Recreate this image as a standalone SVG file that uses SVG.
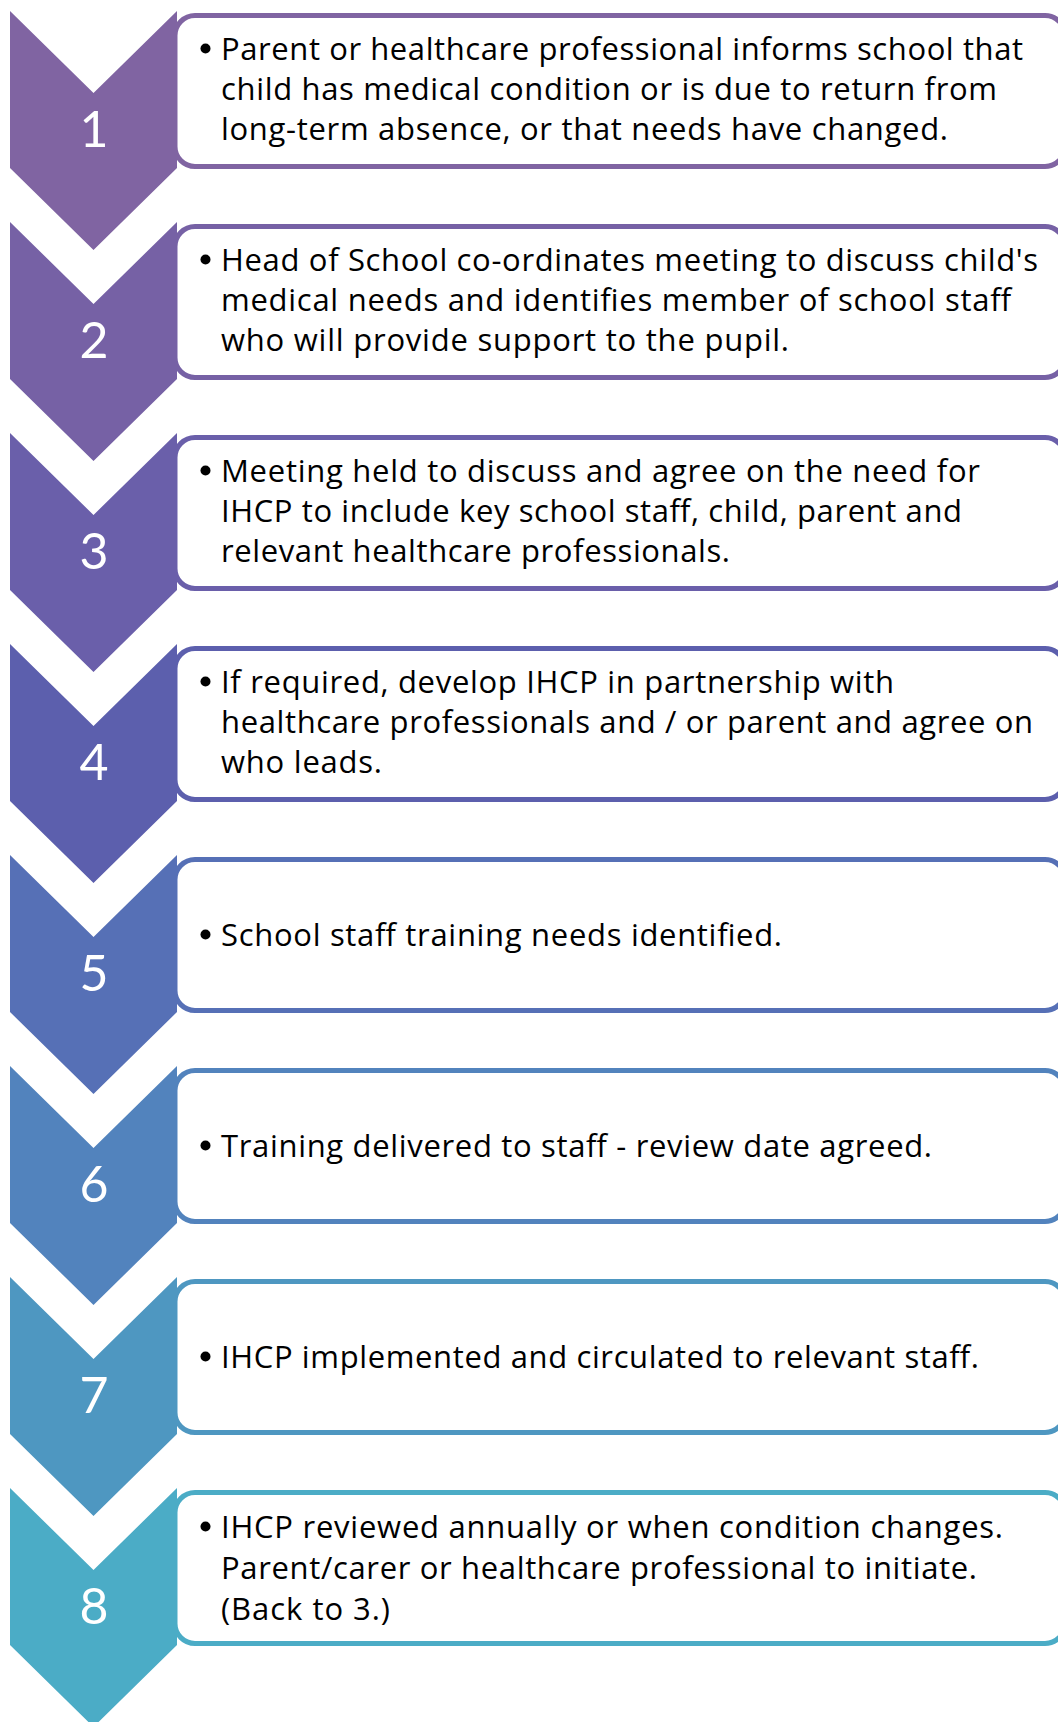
<svg xmlns="http://www.w3.org/2000/svg" width="1058" height="1722" viewBox="0 0 1058 1722">
<style>
  .box { fill: #ffffff; stroke-width: 5; }
  .num { font-family: Lato, "Open Sans", "Liberation Sans", sans-serif; font-size: 50px; fill: #ffffff; text-anchor: middle; }
  .txt { font-family: "Open Sans", Lato, "Liberation Sans", sans-serif; font-size: 31px; fill: #000000; }
  .dot { fill: #000000; }
  .c1 { fill: #8064A2; } .s1 { stroke: #8064A2; }
  .c2 { fill: #7661A5; } .s2 { stroke: #7661A5; }
  .c3 { fill: #6A5FAA; } .s3 { stroke: #6A5FAA; }
  .c4 { fill: #5C5FAD; } .s4 { stroke: #5C5FAD; }
  .c5 { fill: #5670B6; } .s5 { stroke: #5670B6; }
  .c6 { fill: #5283BD; } .s6 { stroke: #5283BD; }
  .c7 { fill: #4E97C1; } .s7 { stroke: #4E97C1; }
  .c8 { fill: #4BACC6; } .s8 { stroke: #4BACC6; }
</style>
<defs>
  <polygon id="chev" points="10,0 93.5,82 177,0 177,157 93.5,239 10,157"/>
</defs>
<rect width="1058" height="1722" fill="#ffffff"/>

<g id="step1" transform="translate(0,11)">
  <rect class="box s1" x="175" y="4.5" width="890" height="151" rx="20"/>
  <use href="#chev" class="c1"/>
  <text class="num" x="94" y="136">1</text>
  <circle class="dot" cx="205.5" cy="37.5" r="5"/>
  <text class="txt" x="221" y="49" textLength="802">Parent or healthcare professional informs school that</text>
  <text class="txt" x="221" y="89" textLength="776">child has medical condition or is due to return from</text>
  <text class="txt" x="221" y="129" textLength="727">long-term absence, or that needs have changed.</text>
</g>

<g id="step2" transform="translate(0,222)">
  <rect class="box s2" x="175" y="4.5" width="890" height="151" rx="20"/>
  <use href="#chev" class="c2"/>
  <text class="num" x="94" y="136">2</text>
  <circle class="dot" cx="205.5" cy="37.5" r="5"/>
  <text class="txt" x="221" y="49" textLength="817">Head of School co-ordinates meeting to discuss child's</text>
  <text class="txt" x="221" y="89" textLength="790">medical needs and identifies member of school staff</text>
  <text class="txt" x="221" y="129" textLength="568">who will provide support to the pupil.</text>
</g>

<g id="step3" transform="translate(0,433)">
  <rect class="box s3" x="175" y="4.5" width="890" height="151" rx="20"/>
  <use href="#chev" class="c3"/>
  <text class="num" x="94" y="136">3</text>
  <circle class="dot" cx="205.5" cy="37.5" r="5"/>
  <text class="txt" x="221" y="49" textLength="759">Meeting held to discuss and agree on the need for</text>
  <text class="txt" x="221" y="89" textLength="741">IHCP to include key school staff, child, parent and</text>
  <text class="txt" x="221" y="129" textLength="509">relevant healthcare professionals.</text>
</g>

<g id="step4" transform="translate(0,644)">
  <rect class="box s4" x="175" y="4.5" width="890" height="151" rx="20"/>
  <use href="#chev" class="c4"/>
  <text class="num" x="94" y="136">4</text>
  <circle class="dot" cx="205.5" cy="37.5" r="5"/>
  <text class="txt" x="221" y="49" textLength="673">If required, develop IHCP in partnership with</text>
  <text class="txt" x="221" y="89" textLength="812">healthcare professionals and / or parent and agree on</text>
  <text class="txt" x="221" y="129" textLength="161">who leads.</text>
</g>

<g id="step5" transform="translate(0,855)">
  <rect class="box s5" x="175" y="4.5" width="890" height="151" rx="20"/>
  <use href="#chev" class="c5"/>
  <text class="num" x="94" y="136">5</text>
  <circle class="dot" cx="205.5" cy="79.5" r="5"/>
  <text class="txt" x="221" y="91" textLength="561">School staff training needs identified.</text>
</g>

<g id="step6" transform="translate(0,1066)">
  <rect class="box s6" x="175" y="4.5" width="890" height="151" rx="20"/>
  <use href="#chev" class="c6"/>
  <text class="num" x="94" y="136">6</text>
  <circle class="dot" cx="205.5" cy="79.5" r="5"/>
  <text class="txt" x="221" y="91" textLength="711">Training delivered to staff - review date agreed.</text>
</g>

<g id="step7" transform="translate(0,1277)">
  <rect class="box s7" x="175" y="4.5" width="890" height="151" rx="20"/>
  <use href="#chev" class="c7"/>
  <text class="num" x="94" y="136">7</text>
  <circle class="dot" cx="205.5" cy="79.5" r="5"/>
  <text class="txt" x="221" y="91" textLength="758">IHCP implemented and circulated to relevant staff.</text>
</g>

<g id="step8" transform="translate(0,1488)">
  <rect class="box s8" x="175" y="4.5" width="890" height="151" rx="20"/>
  <use href="#chev" class="c8"/>
  <text class="num" x="94" y="136">8</text>
  <circle class="dot" cx="205.5" cy="38.5" r="5"/>
  <text class="txt" x="221" y="50" textLength="782">IHCP reviewed annually or when condition changes.</text>
  <text class="txt" x="221" y="91" textLength="756">Parent/carer or healthcare professional to initiate.</text>
  <text class="txt" x="221" y="132" textLength="169">(Back to 3.)</text>
</g>
</svg>
